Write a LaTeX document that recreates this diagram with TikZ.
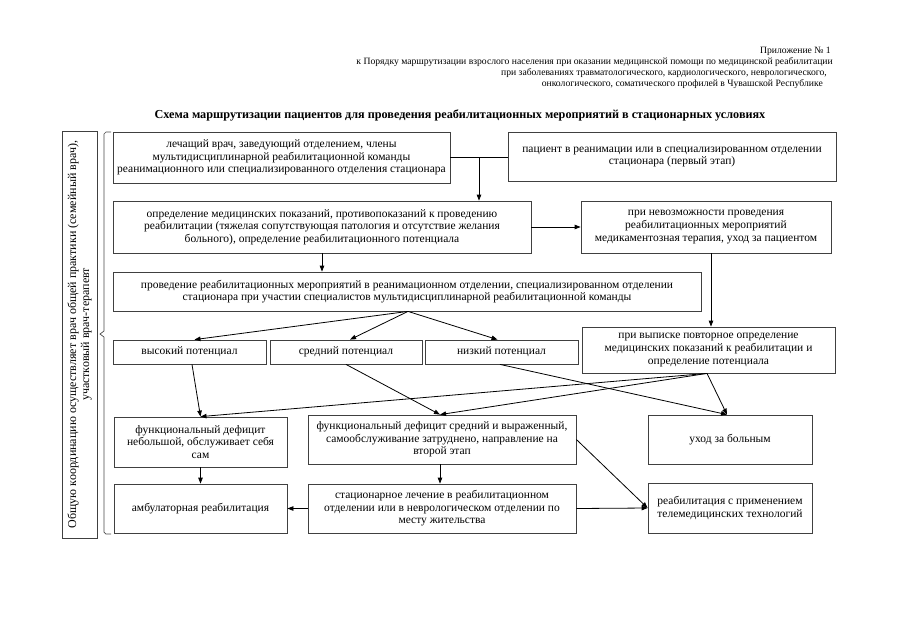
\documentclass[tikz,border=0pt]{standalone}
\usepackage{fontspec}
\setmainfont{Liberation Serif}
\usetikzlibrary{arrows.meta,calc}
\newcommand\boxfont{\fontsize{11.5}{12.6}\selectfont}
\newcommand\headfont{\fontsize{9.65}{11}\selectfont}
\newcommand\titlefont{\fontsize{12.2}{13}\selectfont\bfseries}
\newcommand\vertfont{\fontsize{12}{13}\selectfont}
\begin{document}
\begin{tikzpicture}[x=1pt,y=-1pt,
  box/.style={draw=black!75, line width=0.8pt, align=center, inner sep=0pt, font=\boxfont},
  arr/.style={-{Triangle[length=6pt,width=4.5pt]}, line width=0.8pt, black},
  ln/.style={line width=0.8pt, black},
  head/.style={anchor=base east, inner sep=0pt, font=\headfont}]
\useasboundingbox (0,0) rectangle (904,640);
\fill[white] (0,0) rectangle (904,640);

% header
\node[head] (h1) at (831,53) {Приложение № 1};
\node[head] (h2) at (833,64) {к Порядку маршрутизации взрослого населения при оказании медицинской помощи по медицинской реабилитации};
\node[head] (h3) at (827,75) {при заболеваниях травматологического, кардиологического, неврологического,};
\node[head] (h4) at (823,86) {онкологического, соматического профилей в Чувашской Республике};

% title
\node[font=\titlefont, anchor=base, inner sep=0pt] (title) at (460,118) {Схема маршрутизации пациентов для проведения реабилитационных мероприятий в стационарных условиях};

% vertical box
\node[box, rotate=90, minimum width=407pt, minimum height=35pt, font=\vertfont] (V) at (79.5,334.5)
  {Общую координацию осуществляет врач общей практики (семейный врач),\\ участковый врач-терапевт};
\draw[draw=black!70, line width=0.7pt] (111,132) -- (106,132) -- (104,134) -- (104,331) -- (100,334) -- (104,337) -- (104,532) -- (106,534) -- (111,534);

% boxes
\node[box, minimum width=337pt, minimum height=51pt] (A) at (281.5,157.5)
  {лечащий врач, заведующий отделением, члены\\ мультидисциплинарной реабилитационной команды\\ реанимационного или специализированного отделения стационара};
\node[box, minimum width=328pt, minimum height=49pt] (B) at (672,157)
  {пациент в реанимации или в специализированном отделении\\ стационара (первый этап)};
\node[box, minimum width=418pt, minimum height=52pt] (C) at (322,227)
  {определение медицинских показаний, противопоказаний к проведению\\ реабилитации (тяжелая сопутствующая патология и отсутствие желания\\ больного), определение реабилитационного потенциала};
\node[box, minimum width=250pt, minimum height=52pt] (D) at (706,227)
  {при невозможности проведения\\ реабилитационных мероприятий\\ медикаментозная терапия, уход за пациентом};
\node[box, minimum width=588pt, minimum height=39pt] (E) at (407,291.5)
  {проведение реабилитационных мероприятий в реанимационном отделении, специализированном отделении\\ стационара при участии специалистов мультидисциплинарной реабилитационной команды};
\node[box, minimum width=153pt, minimum height=24pt] (Hi) at (189.5,352) {высокий потенциал};
\node[box, minimum width=152pt, minimum height=24pt] (Mi) at (346,352) {средний потенциал};
\node[box, minimum width=153pt, minimum height=24pt] (Lo) at (501.5,352) {низкий потенциал};
\node[box, minimum width=253pt, minimum height=46pt] (G) at (708.5,350)
  {при выписке повторное определение\\ медицинских показаний к реабилитации и\\ определение потенциала};
\node[box, minimum width=173pt, minimum height=50pt] (H) at (200.5,442)
  {функциональный дефицит\\ небольшой, обслуживает себя\\ сам};
\node[box, minimum width=268pt, minimum height=49pt] (I) at (442,439.5)
  {функциональный дефицит средний и выраженный,\\ самообслуживание затруднено, направление на\\ второй этап};
\node[box, minimum width=164pt, minimum height=49pt] (J) at (730,439.5) {уход за больным};
\node[box, minimum width=173pt, minimum height=49pt] (K) at (200.5,508.5) {амбулаторная реабилитация};
\node[box, minimum width=268pt, minimum height=49pt] (L) at (442,508.5)
  {стационарное лечение в реабилитационном\\ отделении или в неврологическом отделении по\\ месту жительства};
\node[box, minimum width=164pt, minimum height=50pt] (M) at (730,508)
  {реабилитация с применением\\ телемедицинских технологий};

% connectors
\draw[ln] (A.east) -- (A.east -| B.west);
\coordinate (j1) at ($(A.east)!0.5!(A.east -| B.west)$);
\draw[arr] (j1) -- (j1 |- C.north);
\draw[arr] (C.east) -- (C.east -| D.west);
\draw[arr] ([xshift=5pt]D.south) -- ([xshift=5pt]D.south |- G.north);
\draw[arr] (C.south) -- (C.south |- E.north);
\draw[arr] ([xshift=1pt]E.south) -- ([xshift=5pt]Hi.north);
\draw[arr] ([xshift=1pt]E.south) -- ([xshift=4pt]Mi.north);
\draw[arr] ([xshift=1pt]E.south) -- ([xshift=-4pt]Lo.north);
\draw[arr] ([xshift=2.5pt]Hi.south) -- (H.north);
\draw[arr] (Mi.south) -- ([xshift=-2pt]I.north);
\draw[arr] ([xshift=-1.5pt]Lo.south) -- ([xshift=-3pt]J.north);
\draw[arr] ([xshift=-1.5pt]G.south) -- (H.north);
\draw[arr] ([xshift=-1.5pt]G.south) -- ([xshift=-2pt]I.north);
\draw[arr] ([xshift=-1.5pt]G.south) -- ([xshift=-3pt]J.north);
\draw[arr] (H.south) -- (K.north);
\draw[arr] ([xshift=-2pt]I.south) -- ([xshift=-2pt]L.north);
\draw[arr] (L.west) -- (K.east);
\draw[arr] (L.east) -- (M.west);
\draw[arr] (I.east) -- (M.west);
\end{tikzpicture}
\end{document}
